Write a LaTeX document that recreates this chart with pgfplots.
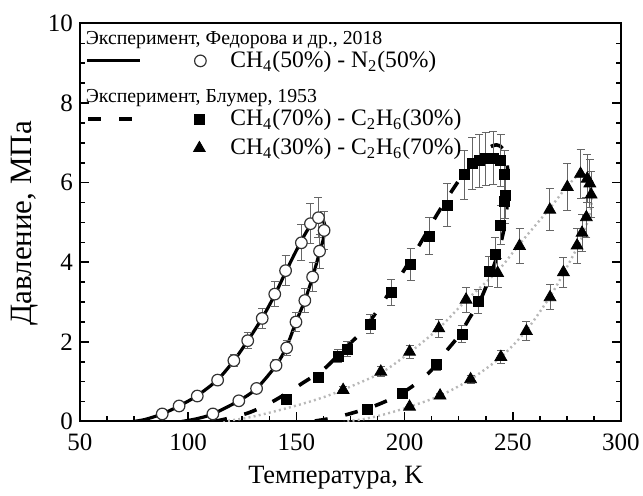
\documentclass[border=0pt]{standalone}
\usepackage{fontspec}
\setmainfont{Liberation Serif}
\usepackage{pgfplots}
\pgfplotsset{compat=1.18}
\usepackage{pgfplotstable}

\pgfplotstableread{
T P e
88.0 0.19 0.03
95.8 0.39 0.05
104.2 0.64 0.07
113.6 1.04 0.10
121.1 1.53 0.15
127.5 2.03 0.20
134.2 2.59 0.26
140.0 3.20 0.32
145.0 3.79 0.38
152.3 4.49 0.45
156.5 4.97 0.50
160.2 5.12 0.50
111.4 0.19 0.03
123.4 0.52 0.06
131.6 0.83 0.09
140.6 1.41 0.14
145.5 1.85 0.19
149.8 2.50 0.25
153.9 3.04 0.30
157.5 3.63 0.36
160.7 4.28 0.43
162.8 4.80 0.48
}\circdata

\pgfplotstableread{
T P e
145.5 0.55 0.06
160.2 1.12 0.11
169.2 1.64 0.16
173.4 1.82 0.18
184.1 2.44 0.24
193.8 3.24 0.32
202.8 3.94 0.40
211.3 4.66 0.47
219.8 5.44 0.54
227.5 6.20 0.62
231.3 6.48 0.65
234.4 6.55 0.66
237.5 6.60 0.66
241.0 6.62 0.66
244.5 6.56 0.66
246.3 6.20 0.62
246.5 5.68 0.57
246.3 5.52 0.55
244.5 4.93 0.49
241.9 4.20 0.42
239.0 3.77 0.38
234.0 3.02 0.30
226.5 2.20 0.22
214.8 1.43 0.14
198.8 0.70 0.07
182.8 0.31 0.03
}\sqdata

\pgfplotstableread{
T P e
171.6 0.79 0.08
189.0 1.25 0.12
202.3 1.75 0.17
215.8 2.34 0.23
228.4 3.06 0.31
243.0 3.73 0.37
253.1 4.41 0.44
267.1 5.32 0.53
275.2 5.89 0.59
281.3 6.22 0.62
284.4 6.10 0.61
285.6 5.98 0.60
286.2 5.70 0.57
284.0 5.13 0.51
282.0 4.74 0.47
279.7 4.42 0.44
273.4 3.75 0.38
267.2 3.12 0.31
256.3 2.27 0.23
244.5 1.62 0.16
230.5 1.06 0.10
216.4 0.65 0.06
202.3 0.37 0.04
}\tridata

\definecolor{ebar}{gray}{0.4}
\definecolor{dotc}{gray}{0.72}

\begin{document}
\begin{tikzpicture}
\begin{axis}[
  scale only axis, width=270.5pt, height=199pt,
  xmin=50, xmax=300, ymin=0, ymax=10,
  xtick={50,100,...,300}, ytick={0,2,...,10},
  minor x tick num=3, minor y tick num=3,
  tick align=inside,
  xtick pos=bottom, ytick pos=both, yticklabel pos=left,
  major tick length=4.5pt, minor tick length=2.6pt,
  axis line style={line width=1pt},
  every tick/.style={black, line width=0.8pt},
  tick label style={font=\fontsize{12.5}{14}\selectfont},
  xticklabel style={yshift=-2.5pt},
  /pgf/number format/assume math mode=true,
  xlabel={Температура, K},
  ylabel={Давление, МПа},
  xlabel style={font=\fontsize{13.2}{15}\selectfont, at={(axis description cs:0.473,-0.1407)}, anchor=center},
  ylabel style={font=\fontsize{15.5}{17}\selectfont, at={(axis description cs:-0.1017,0.498)}, anchor=center, rotate=0},
  legend style={at={(axis description cs:0.00924,0.9867)}, anchor=north west, draw=none, fill=none, inner sep=0pt, row sep=0pt, column sep=0pt, nodes={inner sep=0pt, draw=none}, font=\fontsize{11.8}{13}\selectfont},
  legend cell align=left,
]
\addlegendimage{legend image code/.code={\path[draw=none, fill=none] (0,-5.35pt) rectangle (72.5pt,5pt); \node[overlay, draw=none, anchor=west, inner sep=0pt, font=\fontsize{9.9}{11}\selectfont] at (0,0) {Эксперимент, Федорова и др., 2018};}}
\addlegendentry{}
\addlegendimage{legend image code/.code={\path[draw=none, fill=none] (0,-5.5pt) rectangle (72.5pt,5.5pt); \draw[black, solid, line width=1.6pt] (1pt,0) -- (27.5pt,0); \draw[solid, fill=white, draw=black!80, line width=0.6pt] (57.5pt,0) circle (2.9pt);}}
\addlegendentry{CH\textsubscript{4}(50\%) - N\textsubscript{2}(50\%)}
\addlegendimage{legend image code/.code={\path[draw=none, fill=none] (0,-5.5pt) rectangle (72.5pt,12.65pt); \node[overlay, draw=none, anchor=west, inner sep=0pt, font=\fontsize{9.9}{11}\selectfont] at (0,0) {Эксперимент, Блумер, 1953};}}
\addlegendentry{}
\addlegendimage{legend image code/.code={\path[draw=none, fill=none] (0,-7pt) rectangle (72.5pt,5.5pt); \draw[black, line width=1.8pt, dash pattern=on 6.5pt off 9pt] (1.5pt,0) -- (24pt,0); \fill[black] (54.5pt,-2.5pt) rectangle (59.5pt,2.5pt);}}
\addlegendentry{CH\textsubscript{4}(70\%) - C\textsubscript{2}H\textsubscript{6}(30\%)}
\addlegendimage{legend image code/.code={\path[draw=none, fill=none] (0,-5.5pt) rectangle (72.5pt,7.5pt); \fill[black] (57pt,3.4pt) -- (54.06pt,-1.7pt) -- (59.94pt,-1.7pt) -- cycle;}}
\addlegendentry{CH\textsubscript{4}(30\%) - C\textsubscript{2}H\textsubscript{6}(70\%)}

% model curves
\addplot[forget plot, dotc, line width=1.2pt, dash pattern=on 1pt off 1.6pt, smooth, tension=0.5] coordinates {
(116,0) (126,0.08) (136,0.2) (150,0.4) (162,0.6) (171.6,0.8) (189,1.22) (202,1.72) (215.6,2.33) (228.4,3.04) (243,3.78) (253,4.45) (267,5.35) (275,5.9) (281,6.22) (284.5,6.12) (286.5,5.8) (286,5.3) (283.5,4.85) (280.5,4.45) (274,3.78) (267,3.12) (256,2.27) (244.5,1.62) (230.5,1.06) (216.4,0.65) (202.3,0.37) (190,0.17) (180,0.05) (172,0)};
\addplot[forget plot, black, line width=1.8pt, dash pattern=on 6.5pt off 9pt, smooth, tension=0.5] coordinates {
(112,0) (121,0.11) (128,0.22) (134,0.36) (140,0.53) (147,0.76) (153,0.97) (163,1.33) (172,1.82) (181,2.3) (190,3.0) (198,3.65) (207,4.45) (215,5.2) (224,5.97) (232,6.55) (238,6.85) (242.5,6.95) (245.5,6.85) (247.3,6.5) (247.8,6.0) (247.3,5.4) (245.8,4.8) (243,4.2) (239.5,3.65) (235,3.05) (230,2.6) (225,2.15) (219,1.75) (213,1.32) (206,0.98) (199,0.72) (191,0.5) (183,0.33) (173,0.17) (165,0.07) (157,0)};
\addplot[forget plot, black, line width=1.6pt, smooth, tension=0.5] coordinates {
(74.5,0) (80,0.05) (88,0.19) (95.8,0.39) (104.2,0.65) (113.6,1.05) (121.1,1.53) (127.5,2.03) (134.2,2.6) (140,3.18) (145,3.75) (150,4.3) (155,4.8) (159,5.08) (161.5,5.13) (163.2,4.9) (162.3,4.55) (160.7,4.25) (157.5,3.63) (153.9,3.04) (149.8,2.5) (145.5,1.88) (140.6,1.41) (131.6,0.83) (123.4,0.52) (111.4,0.19) (104,0.07) (97,0)};

% data
\addplot[forget plot, only marks, mark=*, mark size=2.9pt, mark options={fill=white, draw=black!80, line width=0.6pt},
  error bars/.cd, y dir=both, y explicit, error bar style={ebar, line width=0.5pt}, error mark options={rotate=90, ebar, mark size=2pt, line width=0.5pt}]
  table[x=T, y=P, y error=e] {\circdata};
\addplot[forget plot, only marks, mark=square*, mark size=2.5pt, black,
  error bars/.cd, y dir=both, y explicit, error bar style={ebar, line width=0.5pt}, error mark options={rotate=90, ebar, mark size=2pt, line width=0.5pt}]
  table[x=T, y=P, y error=e] {\sqdata};
\addplot[forget plot, only marks, mark=triangle*, mark size=3.4pt, black,
  error bars/.cd, y dir=both, y explicit, error bar style={ebar, line width=0.5pt}, error mark options={rotate=90, ebar, mark size=2pt, line width=0.5pt}]
  table[x=T, y=P, y error=e] {\tridata};
\end{axis}
\pgfresetboundingbox
\path (-40pt,-37.15pt) rectangle (281.5pt,210.75pt);
\end{tikzpicture}
\end{document}
